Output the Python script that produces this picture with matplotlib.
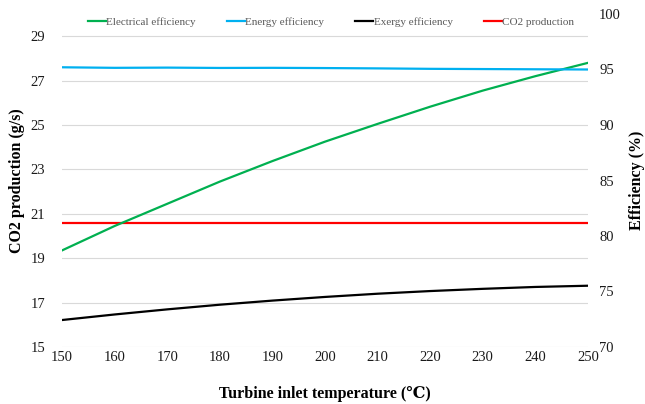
import numpy as np
import matplotlib.pyplot as plt

plt.rcParams['font.family'] = ['Liberation Serif', 'DejaVu Serif']

# turbine inlet temperature (C)
temp = [150, 160, 170, 180, 190, 200, 210, 220, 230, 240, 250]

# efficiencies (%) -> right axis
elec_eff = [78.7, 80.9, 82.9, 84.9, 86.75, 88.5, 90.1, 91.65, 93.1, 94.4, 95.6]
energy_eff = [95.2, 95.15, 95.17, 95.14, 95.15, 95.13, 95.1, 95.06, 95.04, 95.02, 95.0]
exergy_eff = [72.43, 72.93, 73.39, 73.81, 74.18, 74.51, 74.8, 75.04, 75.24, 75.41, 75.52]

# CO2 production (g/s) -> left axis
co2 = [20.58] * len(temp)

fig = plt.figure(figsize=(6.45, 4.04), dpi=100)
ax = fig.add_axes([62 / 645, 57 / 404, 526 / 645, 333 / 404])
ax2 = ax.twinx()

ax.set_ylim(15, 30)
ax.set_yticks(np.arange(15, 30, 2))
ax2.set_ylim(70, 100)
ax2.set_yticks(np.arange(70, 101, 5))
ax.set_xlim(150, 250)
ax.set_xticks(temp)

ax.grid(axis='y', color='#d9d9d9', linewidth=0.8)
ax.set_axisbelow(True)
for a in (ax, ax2):
    for s in a.spines.values():
        s.set_visible(False)
    a.tick_params(length=0, labelsize=10.5, colors='#1a1a1a')
ax.tick_params(axis='x', pad=3)
ax.tick_params(axis='y', pad=12)
ax2.tick_params(axis='y', pad=8)

lw = 1.6
l1, = ax2.plot(temp, elec_eff, color='#00B050', lw=lw, label='Electrical efficiency')
l2, = ax2.plot(temp, energy_eff, color='#00B0F0', lw=lw, label='Energy efficiency')
l3, = ax2.plot(temp, exergy_eff, color='black', lw=lw, label='Exergy efficiency')
l4, = ax.plot(temp, co2, color='#FF0000', lw=lw, label='CO2 production')

leg = fig.legend(handles=[l1, l2, l3, l4], loc='center', bbox_to_anchor=(331 / 645, 1 - 22 / 404),
                 ncol=4, frameon=False, fontsize=8, handlelength=1.6, handletextpad=0.05,
                 columnspacing=2.8)
for t in leg.get_texts():
    t.set_color('#595959')

ax.set_xlabel('Turbine inlet temperature (℃)', fontsize=11.5, fontweight='bold', labelpad=16)
ax.set_ylabel('CO2 production (g/s)', fontsize=11.5, fontweight='bold')
ax2.set_ylabel('Efficiency (%)', fontsize=11.5, fontweight='bold', rotation=90)
ax.yaxis.set_label_coords(-0.070, 0.5)
ax2.yaxis.set_label_coords(1.077, 0.5)

fig.savefig('out.png', dpi=100)
